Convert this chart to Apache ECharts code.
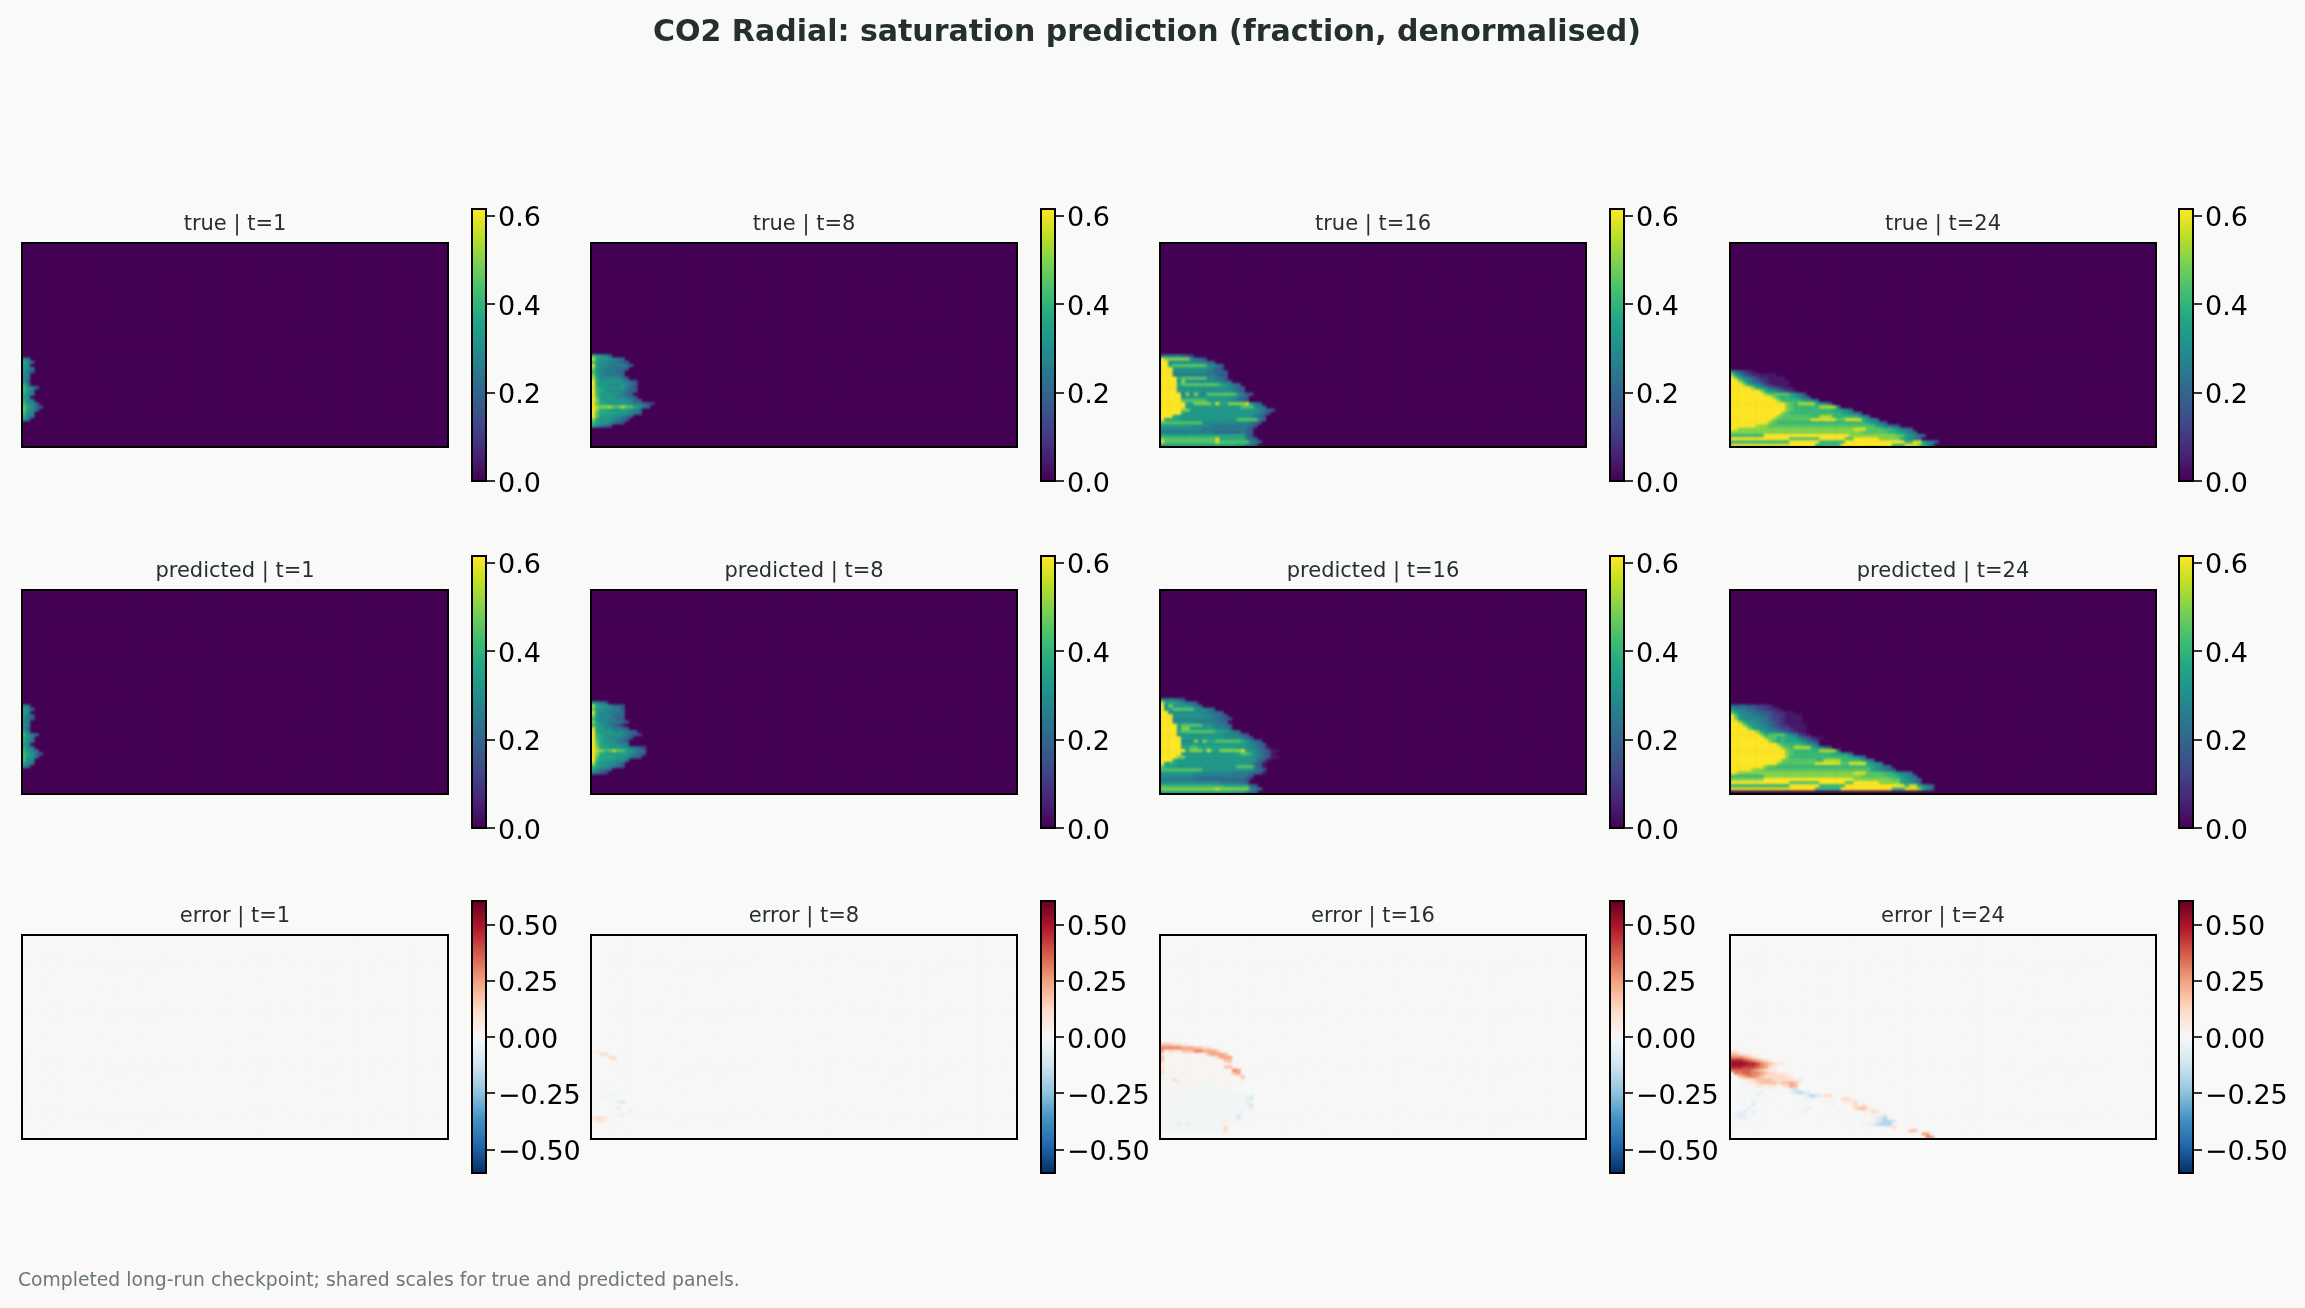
<!DOCTYPE html>
<html>
<head>
<meta charset="utf-8">
<title>CO2 Radial saturation</title>
<style>html,body{margin:0;padding:0;background:#f9faf8}#chart{width:2305px;height:1308px}</style>
<script src="https://cdn.jsdelivr.net/npm/echarts@6/dist/echarts.min.js"></script>
</head>
<body>
<div id="chart"></div>
<script>
// Saturation fields: one string per grid row, one hex digit per cell (index into SAT_LEVELS).
// `first` is the grid row of the first string; every other cell is zero.
const SAT_LEVELS = [0, .04, .08, .12, .17, .21, .25, .29, .33, .37, .41, .45, .5, .54, .58, .62];
// Error fields: digits are positive levels, letters negative, +/- the faintest tint.
const ERR_LEVELS = { '.': 0, '+': .015, '-': -.015, 1: .06, 2: .12, 3: .18, 4: .24, 5: .3, 6: .36, 7: .42, 8: .48, 9: .54,
  a: -.06, b: -.12, c: -.18, d: -.24, e: -.3 };

const trueT1 = { first: 36, rows: ["76","975","87","876","864","76","76","75","96","a875","a86","976","87","976","a875","b9854","b875","a77","976","86"] };
const trueT8 = { first: 35, rows: ["a9875","e9887765","a87766554","e877666654","c87666555","a8766655","c8766664","d97777764","f9888887654","f9887778764","fa988888654","fa987777654","fa88887654","fb888877654","fc9888887754","fb9988888766543","fdccdbbdbb9865","fc9988888765","fb9999888765","fb88877654","c98887654","a9887654","97654"] };
const trueT16 = { first: 35, rows: [
  "56666543","fcccccc7654","ff77777777654","ff9bbbbbbbb7765","fff888888887654","fff7777777766554","fff6666666666544",
  "ffff9bbbbbb77654","ffff7c77777777654","ffff9bbbbbbbbb98765","ffff8888888888887654","ffff8888887777777654",
  "fffff6c6c77bbbbbbb8654","fffff8888888888887654","fffffbbbbbb8888877654","ffffff99cccc9e99cccce865",
  "ffffff8888888888888bbb765","fffffcc88888888888888887654","fffff988888888888888887654",
  "fff9888888888888888887654","f99998888888888888bbbbb65","bbbbbbbbbb77777777777654","88888887777766666666654",
  "7777777777666666666654","6666666666666555555654","9999999999999999999954","cbbbbbbbbbbbbe999999654",
  "ebbbbbbbbbbbbebbbbbbb765","99999999999999999988654"] };
const trueT24 = { first: 40, rows: [
  "864321","c8643221111","fc97653221111","ffc97543211111","fffc9875321111","fffffc987543211","fffffffc98764321",
  "ffffffffcbbbbb9764","ffffffffffca9a98754","fffffffffffcaaaaa9875","fffffffffffffcbadddd9875","fffffffffffffcbaaaaaadddd6",
  "fffffffffffffcbaaaaaaaaa99875","ffffffffffffcbaaaaaaaaaaaa98765","fffffffffffcbbbbbbbaadddaaaaaa875",
  "ffffffffffcbbbbbbbbeeeeeebbeeee9876","fffffffffcbaaaaaaaaaaaaaaaaaaaaa98765","ffffffdccbbbbbbbbbbbbbbbbbbbbbbbbb987654",
  "feccccccccccccccccccccccccccceeebbbbaa98765","cccccccccccccccccccccccccccccccbbbbbbaa98765",
  "aaaaaaaaffffffffffffffffffffcccccccccccbb98765","ffffffffffffffbbbbbbbffffffbbffffffccccc98765",
  "aaaaaaaaaaaaaafffffffaaaaaaffffffffffffffaaee9765","eeeeeeeeeeeeeeffffffaaaaaaffffffffffffaaaeeec975"] };

const predT1 = { first: 36, rows: ["76","875","87","865","764","76","76","75","86","a875","986","976","87","976","a875","a9854","a875","a77","876","75"] };
const predT8 = { first: 35, rows: ["8765","d9887654","b8877664","e8776665","c8777655","a8776654","c87766654","a9876542","e98776654","f9888777654","fa9888876543","fa98777654","fb9887654","fb9888776","fc99888776543","fdcabdbb98765","fc99888887654","fb9999887654","fa9888776","d9887765","a9887654","97654","6543"] };
const predT16 = { first: 34, rows: [
  "667654","e99987654","f7c8888765","f88bbbbb87765","ff7777777776554","fff8888888776654","fff77777777766544","fff7777776666655",
  "ffff9bbbbb8876654","ffff8cc8888887765","ffff9bbbbbbbb998765","ffff88888888888777654","fffff88888888887777654",
  "fffff777c7c99bbbbbb98654","fffff88888888888888877654","fffff99bb99999999988876541","ffffff9ccc9e99ccccce88765411",
  "fffff88888888888889bb976541","ffffcc8888888888888888765411","fff98888888888888888887541","f999888888888888888887541",
  "b99888888888888888bbbb651","bbbbbbbbbb888888888888654","8888888877777777766665541","7777777766666666666654",
  "6666666655555555555541","777777777777776666654","aaaaaaaaaaaaaaa99999954","ccccccccccccceccccccc765","99999999999999999988654"] };
const predT24 = { first: 36, rows: [
  "5555443322","866655433221","a97766554432211","fb877665543321111","fc877776643321111","ffc98876654321111",
  "fffc98876543221111","ffffc9877654332111","ffffffc98776543211","fffffffc9bbbb976321","ffffffffcbb9a998654211",
  "fffffffffca9a99987543","fffffffffffcaaaaa9875","ffffffffffffcbadddd98754","fffffffffffffcbaaaaaadddd6","fffffffffffffcbaaaaaaaaa99875",
  "fffffffffffffcaaaaaaaaaaaaaa9865","ffffffffffffcbbbbbbbaaddddaaaaa875","fffffffffffcbbbbbbbbeeeeeebbeeee9876",
  "ffffffffcbbaaaaaaaaaaaaaaaaaaaaaa98765","fffffdccbbbbbbbbbbbbbbbbbbbbbbbbb987654","feccccccccccccccccccccccccccceeebbbbaa98765",
  "aaaaaaaacccccccccccccccccccccccbbbbbbaa98765","ccccccccfffffffffffffffffffffcccccccccbb98765",
  "ffffffffffffffbbbbbbbffffffbbffffffccccc98765","aaaaaaaaaaaaaafffffffaaaaaaffffffffffffffaee9765",
  "eeeeeeeeeeeeeeffffffaaaaaaffffffffffffaaaeeec975"] };

const errT1 = { first: 36, rows: ["-","--","-","+","-","-","--","-","-","+-","--","-","-","--","-","-","--","-","+"] };
const errT8 = { first: 35, rows: ["","+1+","++22+","+...22+",".....1","+","+","+","......-","+.....--","+","+","-","..-.","+...--.-","+.-----","...-","....-.ab","+....--..","+.....a+",".........1","+.....+1","1221+","+11++"] };
const errT16 = { first: 33, rows: [
  "++","3332211","555554443322","4+211333554443","2++++++++++34443","3++++++++++++2444","3++++++++++++++33","1+++++++++++++++1+",
  "1+++++-++++++++33","2+-++++++++++++++54","2--++++++++++++++34","+-+++++++++++++++++3","1--2+-+++++++++++++1","+-++1+++---+++++++++",
  "+-+----+-----+++++","+-+++-------++++-","+--+-----------+---","+--------------------a","+--+----------------ab","+-----------------+-a","+--------------------b",
  "+-----------------+--a","+----------------+-a","+-----------------a","+---+-----------+-b","++-------------1+-","+--+a-a---------","+--+----------+2","++-------------2"] };
const errT24 = { first: 36, rows: [
  "11","33211","5554321","8887654321","9999887543211","88877765421","66666543211","+5566554322111","..3455432222211",
  "..-11233332222111","...-1123333233431","...-..11+11+1243","-......-+.+...ab","...-..-a....-.abcba","..-.-.a.-......-.-bcba22",
  "...-.-.-.-.......---...--.221","...-.a-..........--...---.-112","...-.a...........-.....--...+2+2","....a..--.......-+1+......-..2332",
  "-.aa.a--......--.1.......-.....1+22-","-aaa--........-.+.........-.....++--a","--aa-.........................-..-abc","--.............................-.-abccb",
  "-..............................--abccc-","-...........................-...-...-+2","-.........................................33","-............................................44","-.............................................54"] };

const TRUE_TITLES = ["true | t=1", "true | t=8", "true | t=16", "true | t=24"];
const PRED_TITLES = ["predicted | t=1", "predicted | t=8", "predicted | t=16", "predicted | t=24"];
const ERR_TITLES = ["error | t=1", "error | t=8", "error | t=16", "error | t=24"];
const SAT_TICKS = [0, .2, .4, .6];
const ERR_TICKS = [-.5, -.25, 0, .25, .5];
const SAT_RANGE = [0, .615];
const ERR_RANGE = [-.605, .605];
const CHART_TITLE = "CO2 Radial: saturation prediction (fraction, denormalised)";
const FOOTNOTE = "Completed long-run checkpoint; shared scales for true and predicted panels.";

const VIRIDIS = ['#440154','#482475','#414487','#355f8d','#2a788e','#21918c','#22a884','#44bf70','#7ad151','#bddf26','#fde725'];
const RDBU = ['#053061','#2166ac','#4393c3','#92c5de','#d1e5f0','#f7f7f7','#fddbc7','#f4a582','#d6604d','#b2182b','#67001f'];

// Page layout in pixels
const COLS_N = 100, ROWS_N = 64;
const PANEL_X = [22, 591, 1160, 1730], PANEL_W = 426, PANEL_H = 204;
const PANEL_Y = [243, 590, 935];
const BAR_X = [472, 1041, 1610, 2179], BAR_W = 14, BAR_H = 272;
const BAR_Y = [209, 556, 901];

const INK = '#26302b';
const xCats = Array.from({ length: COLS_N }, (_, i) => i);
const yCats = Array.from({ length: ROWS_N }, (_, i) => i);

function cellsOf(field, decode) {
  const cells = [];
  for (let r = 0; r < ROWS_N; r++) {
    const row = field.rows[r - field.first] || '';
    for (let c = 0; c < COLS_N; c++) {
      cells.push([c, r, c < row.length ? decode(row[c]) : 0]);
    }
  }
  return cells;
}
const decodeSat = ch => SAT_LEVELS[parseInt(ch, 16)];
const decodeErr = ch => ERR_LEVELS[ch];

const rowsSpec = [
  { fields: [trueT1, trueT8, trueT16, trueT24], titles: TRUE_TITLES, decode: decodeSat, vm: 0, ground: VIRIDIS[0] },
  { fields: [predT1, predT8, predT16, predT24], titles: PRED_TITLES, decode: decodeSat, vm: 0, ground: VIRIDIS[0] },
  { fields: [errT1, errT8, errT16, errT24], titles: ERR_TITLES, decode: decodeErr, vm: 1, ground: RDBU[5] }
];

const grid = [], xAxis = [], yAxis = [], series = [], title = [], graphic = [];
const satSeries = [], errSeries = [];
const clipRects = [];

title.push({ text: CHART_TITLE, left: 1147, top: 18, padding: 0, textAlign: 'center', textStyle: { fontFamily: 'DejaVu Sans', fontWeight: 'bold', fontSize: 30, color: INK } });
title.push({ text: FOOTNOTE, left: 18, top: 1272, padding: 0, textStyle: { fontFamily: 'DejaVu Sans', fontWeight: 'normal', fontSize: 18.75, color: '#6c7872' } });

function frame(x, y, w, h) {
  graphic.push({ type: 'rect', zlevel: 2, z: 100, shape: { x, y, width: w, height: h }, style: { fill: 'none', stroke: '#000', lineWidth: 2 }, silent: true });
}

function gradientStops(colors) {
  return colors.map((color, i) => ({ offset: i / (colors.length - 1), color }));
}

rowsSpec.forEach((spec, ri) => {
  spec.fields.forEach((field, ci) => {
    // heatmap panel, on its own canvas layer so it can be softened
    const g = grid.length;
    grid.push({ left: PANEL_X[ci], top: PANEL_Y[ri], width: PANEL_W, height: PANEL_H, show: true, borderWidth: 0, backgroundColor: spec.ground });
    xAxis.push({ gridIndex: g, type: 'category', data: xCats, show: false });
    yAxis.push({ gridIndex: g, type: 'category', data: yCats, inverse: true, show: false });
    (spec.vm ? errSeries : satSeries).push(series.length);
    series.push({ type: 'heatmap', zlevel: 1, xAxisIndex: g, yAxisIndex: g, data: cellsOf(field, spec.decode), progressive: 0, animation: false, silent: true });
    clipRects.push(`M${PANEL_X[ci]} ${PANEL_Y[ri]}h${PANEL_W}v${PANEL_H}h${-PANEL_W}z`);
    frame(PANEL_X[ci], PANEL_Y[ri], PANEL_W, PANEL_H);
    title.push({ text: spec.titles[ci], left: PANEL_X[ci] + PANEL_W / 2, top: PANEL_Y[ri] - 29, padding: 0, textAlign: 'center',
      textStyle: { fontFamily: 'DejaVu Sans', fontWeight: 'normal', fontSize: 21, color: INK } });

    // colour bar
    const b = grid.length;
    const range = spec.vm ? ERR_RANGE : SAT_RANGE;
    const ticks = spec.vm ? ERR_TICKS : SAT_TICKS;
    grid.push({ left: BAR_X[ci], top: BAR_Y[ri], width: BAR_W, height: BAR_H });
    xAxis.push({ gridIndex: b, type: 'category', data: ['scale'], show: false });
    yAxis.push({
      gridIndex: b, type: 'value', position: 'right', min: range[0], max: range[1], splitLine: { show: false },
      axisLine: { show: false },
      axisTick: { show: true, length: 9, lineStyle: { color: '#000', width: 1.6 }, customValues: ticks },
      axisLabel: { show: true, margin: 12, verticalAlign: 'top', lineHeight: 7, fontFamily: 'DejaVu Sans', fontSize: 27, color: '#000', customValues: ticks,
        formatter: v => (v < 0 ? '\u2212' : '') + Math.abs(v).toFixed(spec.vm ? 2 : 1) }
    });
    const barCommon = { type: 'bar', xAxisIndex: b, yAxisIndex: b, barWidth: '100%', barGap: '-100%', animation: false, silent: true };
    if (spec.vm) {
      series.push(Object.assign({}, barCommon, { data: [range[1]], itemStyle: { color: new echarts.graphic.LinearGradient(0, 1, 0, 0, gradientStops(RDBU.slice(5))) } }));
      series.push(Object.assign({}, barCommon, { data: [range[0]], itemStyle: { color: new echarts.graphic.LinearGradient(0, 1, 0, 0, gradientStops(RDBU.slice(0, 6))) } }));
    } else {
      series.push(Object.assign({}, barCommon, { data: [range[1]], itemStyle: { color: new echarts.graphic.LinearGradient(0, 1, 0, 0, gradientStops(VIRIDIS)) } }));
    }
    frame(BAR_X[ci], BAR_Y[ri], BAR_W, BAR_H);
  });
});

const chart = echarts.init(document.getElementById('chart'), null, { renderer: 'canvas' });
chart.setOption({
  backgroundColor: '#f9faf8',
  animation: false,
  title, grid, xAxis, yAxis, series, graphic,
  visualMap: [
    { type: 'continuous', show: false, min: SAT_RANGE[0], max: SAT_RANGE[1], seriesIndex: satSeries, inRange: { color: VIRIDIS } },
    { type: 'continuous', show: false, min: ERR_RANGE[0], max: ERR_RANGE[1], seriesIndex: errSeries, inRange: { color: RDBU } }
  ]
});

// The fields read as continuous images: soften the heatmap layer and keep it inside the panels.
function softenHeatmaps() {
  const layer = document.querySelector('#chart canvas[data-zr-dom-id="zr_1"]');
  if (!layer) return;
  layer.style.filter = 'blur(1.3px)';
  layer.style.clipPath = `path('${clipRects.join('')}')`;
}
softenHeatmaps();
chart.on('finished', softenHeatmaps);
</script>
</body>
</html>
